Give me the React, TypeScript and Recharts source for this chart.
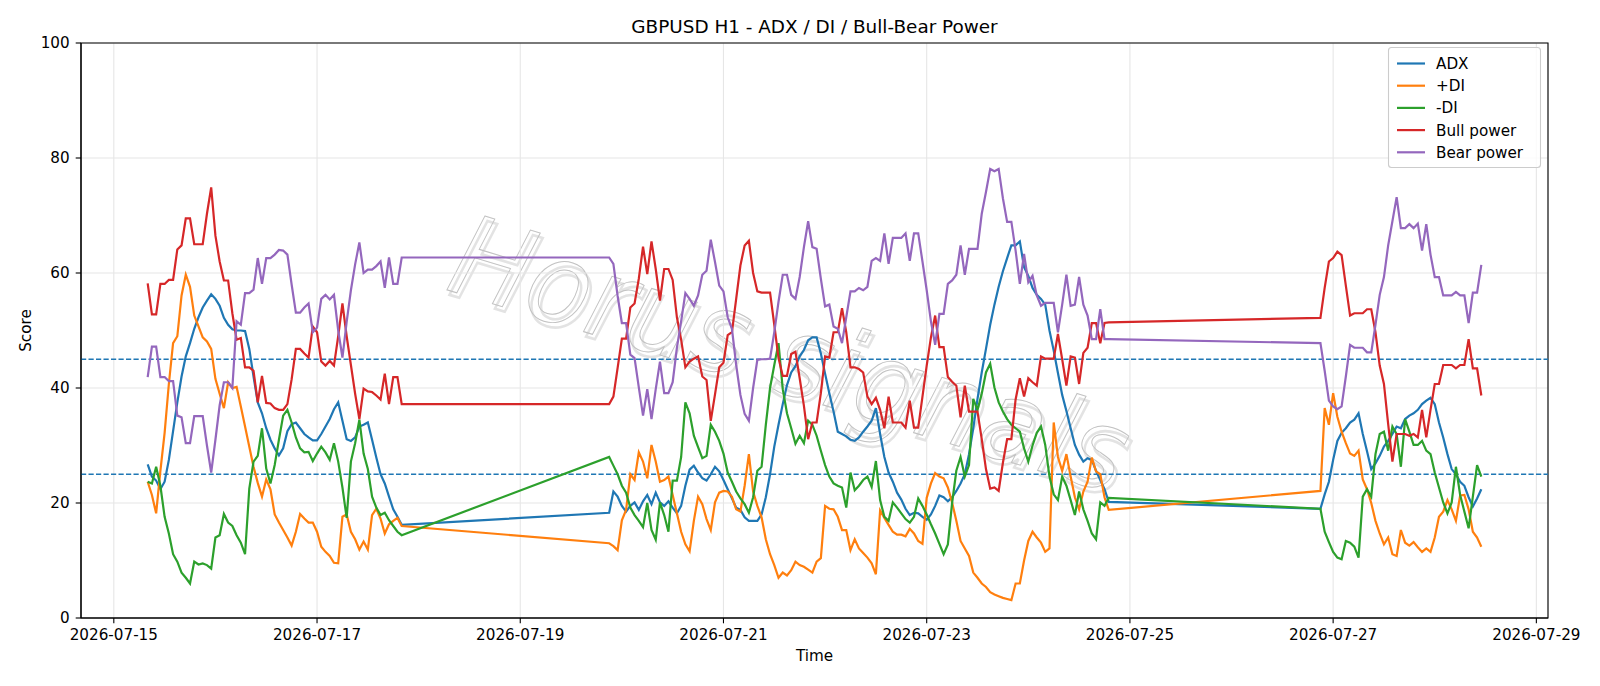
import React from 'react';
import { LineChart, Line, XAxis, YAxis, CartesianGrid, ReferenceLine, ReferenceArea } from 'recharts';

// ---- time axis (H1 bars, three trading blocks separated by weekends) ----
const origin = Date.UTC(2026, 6, 15);
const segmentStarts = ['2026-07-15T08:00:00Z', '2026-07-19T21:00:00Z', '2026-07-26T21:00:00Z'];
const segmentLengths = [61, 119, 39];
const xTickLabels = ['2026-07-15', '2026-07-17', '2026-07-19', '2026-07-21', '2026-07-23', '2026-07-25', '2026-07-27', '2026-07-29'];
const yTicks = [0, 20, 40, 60, 80, 100];
const thresholds = [25, 45];

// ---- series values (one per hour within the blocks) ----
const adx = [
  26.7, 24.6, 23.9, 22.4, 23.7, 27.5, 32.5, 37.5, 42, 45.5,
  47.8, 50.3, 52.3, 54, 55.2, 56.3, 55.5, 54.3, 52.2, 51,
  50.2, 50, 50, 49.9, 46.8, 42, 37.5, 35.6, 33, 31,
  29.5, 28.3, 29.5, 32.5, 33.7, 34, 33, 32, 31.4, 30.9,
  30.9, 32, 33.3, 34.6, 36.3, 37.5, 34.3, 31.1, 30.8, 31.4,
  33.3, 33.6, 34, 31, 27.9, 25, 23.4, 21.1, 18.9, 17.6,
  16.2,
  18.3, 22, 21.1, 19.5, 18.5, 19.5, 20.1, 18.8, 20.3, 21.4,
  19.8, 21.8, 20.1, 19.5, 20.3, 19.2, 18.2, 19.5, 23, 25.8,
  26.5, 25.3, 24.3, 23.9, 25, 26.3, 25.5, 24, 22.4, 20.8,
  19.2, 18.8, 17.5, 16.9, 16.9, 16.9, 18, 21, 25, 29.8,
  33.6, 37.2, 40.5, 42.7, 43.8, 45.5, 46.6, 48.3, 48.8, 48.8,
  46, 42.5, 39.1, 35.9, 32.4, 32, 31.6, 31, 30.8, 31.4,
  32.4, 33.3, 34.3, 36.5, 32, 28, 25.3, 23.7, 21.8, 20.6,
  19, 17.9, 18.3, 18.2, 17.6, 17.1, 18, 19.5, 21.3, 21,
  20.3, 21, 22.1, 23.4, 25, 28.5, 33, 38.1, 42.7, 46.8,
  51, 54.5, 57.6, 60.3, 62.6, 64.8, 64.8, 65.5, 61, 59.5,
  57.4, 56.2, 55.5, 54.5, 50, 46.5, 42.6, 38.8, 36, 33,
  30.1, 28.4, 27.2, 27.8, 27.5, 25.6, 24, 22.4, 20.2,
  19, 21.5, 23.7, 27.5, 30.8, 32.2, 33, 34, 34.5, 35.6,
  32, 29, 25.9, 26.9, 28.2, 29.8, 30.8, 32, 33.3, 33,
  34.6, 35.2, 35.6, 36.2, 37.2, 37.8, 38.3, 37.2, 34, 31.4,
  28.5, 25.9, 25, 23.7, 23, 21, 19.4, 20.8, 22.4,
];

const plusDI = [
  23.7, 21.4, 18.2, 25.6, 32.2, 40.7, 47.8, 49, 56.1, 59.7,
  57.6, 52.6, 50.7, 48.8, 48.1, 46.8, 41.6, 39, 36.5, 41,
  40, 40.2, 36.8, 33.3, 29.8, 26.3, 23.5, 21.1, 24.1, 22.4,
  18, 16.6, 15.3, 14, 12.6, 15, 18.1, 17.3, 16.6, 16.6,
  15, 12.4, 11.5, 10.8, 9.6, 9.5, 17.6, 18, 15, 13.7,
  11.9, 13.3, 11.9, 17.9, 19, 17.3, 14.7, 16.3, 16.9, 17.4,
  16,
  13, 12.5, 11.8, 17, 18.8, 25, 24, 28.8, 27.2, 24.3,
  30.1, 27.2, 23.7, 24, 24.6, 21.4, 18.2, 15, 12.8, 11.6,
  16.9, 21.1, 19.8, 17.2, 15.3, 20.1, 21.8, 22.1, 22, 21.1,
  18.9, 18.5, 23, 28.5, 22, 19.5, 17.5, 13.7, 11.1, 9.2,
  7, 7.9, 7.4, 8.3, 9.8, 9.2, 8.9, 8.4, 7.9, 9.8,
  10.4, 19.5, 19, 18.9, 17.6, 15.3, 15.3, 11.8, 13.7, 12.1,
  11.3, 10.5, 9.5, 7.6, 18.7, 17.4, 16.2, 15, 14.5, 14.5,
  14.2, 15.5, 14.7, 13.4, 12.9, 20.9, 23.4, 25.2, 24.6, 24.3,
  22.7, 20.1, 16.9, 13.4, 12.1, 10.8, 7.9, 7, 6, 5.4,
  4.5, 4.1, 3.8, 3.5, 3.3, 3.1, 6, 6, 10, 13.4,
  15, 14, 13.1, 11.5, 12.1, 34, 28, 25.6, 28.5, 24.6,
  21, 18.9, 22, 23.7, 27.9, 25.5, 25, 21, 18.8,
  22.1, 36.5, 33.6, 39.1, 35, 32.4, 30.4, 28.6, 28.2, 29.1,
  24.1, 22.4, 20, 16.9, 14.7, 12.8, 14, 11.1, 10.8, 15.3,
  13.1, 12.6, 13.2, 12.3, 11.5, 12.1, 11.5, 14, 17.6, 18.5,
  20.5, 18.9, 16.9, 21.3, 21.4, 18.9, 15, 14, 12.4,
];

const minusDI = [
  23.7, 23.4, 26.3, 23, 17.6, 14.7, 11.1, 9.8, 7.9, 7,
  6, 9.8, 9.3, 9.5, 9.2, 8.6, 14, 14.4, 18.1, 16.6,
  16, 14.4, 13.1, 11.1, 22.5, 27.2, 28.2, 33, 26, 23.4,
  26.6, 31, 35.2, 36.2, 34, 31.4, 29.5, 28.8, 28.9, 27.3,
  28.6, 29.8, 28.8, 27.5, 30.4, 27.2, 22.7, 17.4, 27.2, 30.4,
  34.5, 28.6, 25.9, 21.1, 19.2, 17.9, 18.3, 17, 16, 15,
  14.4,
  28, 26.5, 25, 23, 21.8, 19.2, 17.9, 16.9, 15.8, 20,
  15.3, 13.6, 20.1, 17.9, 15, 23.9, 23.9, 28, 37.5, 35.6,
  31.7, 29.7, 27.8, 28.2, 33.6, 32.4, 30.8, 28.6, 25.3, 23.7,
  22, 20.8, 19.8, 18.3, 21, 25.6, 26.3, 33.6, 40, 44,
  47.8, 39.8, 35.6, 33, 30.3, 31.7, 30.4, 34.3, 33.6, 31.7,
  29.1, 26.6, 24.6, 23.4, 23, 22.7, 19.2, 25.3, 22.2, 23,
  24, 24.6, 22.8, 27.3, 20.5, 17.6, 16.9, 20.1, 19.2, 18.2,
  17.2, 16.6, 17.6, 20.8, 19.5, 18, 16.3, 14.7, 12.9, 11.1,
  12.8, 20, 25.6, 28, 24.6, 26.6, 38.1, 36.2, 39, 42.7,
  44.2, 40.1, 37.5, 35.9, 34.6, 33.6, 33, 32.4, 29.5, 27.2,
  30, 32.2, 33.3, 30.1, 24.6, 21.5, 20.5, 24.6, 23, 20.5,
  17.9, 22, 18.9, 16.9, 14.7, 13.7, 20.1, 19.5, 20.9,
  19, 15, 13.2, 11.5, 10.5, 10.2, 13.4, 13.1, 12.4, 10.5,
  21.1, 22.4, 21.1, 28.5, 32, 32.4, 29.1, 33.3, 32, 26.3,
  34.6, 32.4, 30.1, 30.1, 30.8, 29.1, 28.5, 25.3, 22.7, 20.1,
  18.2, 20.1, 26.3, 21.4, 18.5, 15.6, 21.1, 26.6, 24.6,
];

const bullPower = [
  58.2, 52.8, 52.8, 58.1, 58.1, 58.8, 58.8, 64.1, 64.8, 69.5,
  69.5, 65, 65, 65, 70.3, 74.9, 66.5, 62, 58.7, 58.7,
  53, 48.4, 48.7, 43.6, 43.6, 43, 37.5, 42.1, 37.4, 37.3,
  36.5, 36.2, 36.2, 37.2, 41.5, 46.8, 46.8, 46, 45.3, 50.7,
  49.7, 44.6, 43.9, 44.7, 43.9, 49, 54.7, 49, 44, 39,
  34.6, 39.9, 39.4, 39.3, 38.7, 38, 42.5, 37.2, 41.9, 41.9,
  37.2,
  37.2, 38.5, 43.5, 48.6, 48.6, 54, 54.7, 59, 64.6, 59.8,
  65.5, 60.7, 55.2, 60.7, 60.7, 58.8, 52.3, 48.4, 43.6, 44.6,
  45.1, 45.5, 42, 41.4, 34.3, 38.9, 43.6, 44.4, 49.2, 49.7,
  55.5, 61.3, 64.8, 65.6, 60, 56.8, 56.6, 56.6, 56.6, 51,
  45.2, 42.1, 42.1, 45.9, 46.3, 41.7, 36.9, 31.1, 34, 34,
  39.1, 45.5, 45.3, 49.7, 49.7, 53.9, 49.7, 43.6, 43.6, 43.3,
  42.7, 38.5, 37.2, 38.3, 36.2, 33, 38.5, 34, 34, 34,
  33.1, 37.8, 33.1, 33.1, 38.5, 43.9, 48.8, 52.6, 47.1, 47.1,
  41.9, 41.1, 40.4, 34.9, 40.4, 35.9, 35.9, 35.9, 31.1, 25.9,
  22.5, 22.7, 22.1, 27, 31.1, 31.1, 38, 41.7, 38.5, 41.7,
  41, 40.4, 45.5, 45.1, 45.1, 45.1, 49.4, 45, 40.4, 45.5,
  45.3, 40.7, 46.1, 47, 51.3, 51.3, 47.8, 51.3, 51.4,
  52.2, 57.4, 62, 62.6, 63.7, 63.1, 57.8, 52.6, 53, 53,
  53, 53.7, 53.7, 49.7, 43.9, 40.7, 33.7, 27.2, 32, 32,
  32, 31.7, 32, 31.4, 36.2, 31.4, 36.2, 40.7, 40.7, 44,
  44, 44, 43.4, 44, 44, 48.5, 43.4, 43.4, 38.7,
];

const bearPower = [
  41.9, 47.2, 47.2, 41.9, 41.9, 41.2, 41.2, 35.2, 34.9, 30.4,
  30.4, 35.1, 35.1, 35.1, 30, 25.3, 31, 37, 41, 41,
  40, 51.6, 51, 56.5, 56.5, 57.1, 62.6, 58.1, 62.6, 62.6,
  63.2, 64, 63.9, 63.2, 58, 53.1, 53.1, 54, 54.7, 49.7,
  50.5, 55.5, 56.2, 55.4, 56.2, 50, 45.3, 51.5, 57, 61.5,
  65.3, 60, 60.6, 60.6, 61.2, 62, 57.4, 62.7, 58.1, 58.1,
  62.7,
  62.7, 61.6, 56, 51.3, 51.3, 45.8, 45.2, 40.1, 35.2, 39.8,
  34.6, 39.8, 44.6, 39.1, 39.1, 41, 47, 51.6, 56.5, 55.5,
  54.3, 56.1, 59.7, 60.4, 65.8, 61.9, 57.8, 56.8, 52.3, 50.3,
  44, 38.8, 35.5, 34.3, 40, 44.9, 45, 45, 45.1, 49.7,
  55, 59.7, 59.7, 56.2, 55.5, 59.3, 64.5, 69, 64.5, 64.2,
  59, 54.2, 54.5, 50.7, 50.3, 47.8, 52.3, 56.8, 56.8, 57.4,
  57, 57.6, 62.1, 62.6, 62.1, 66.9, 61.6, 66.1, 66.1, 66.1,
  66.9, 62.1, 66.9, 66.9, 62, 57, 51.6, 47.5, 52.9, 52.9,
  58.1, 58.7, 59.7, 64.8, 59.7, 64.2, 64.2, 64.2, 70.3, 74.1,
  78.1, 77.7, 78.1, 73, 68.9, 68.9, 63.9, 58.1, 63.3, 58.4,
  59.5, 56.1, 54.3, 54.8, 54.8, 54.8, 49.7, 54.5, 59.7, 54.3,
  54.5, 59.3, 54.5, 52.6, 48.5, 48.5, 53.7, 48.5, 48.5,
  47.8, 43, 37.8, 36.8, 36.3, 36.8, 42, 47.5, 47, 47,
  47, 46.2, 46.2, 51, 56.2, 59.3, 64.8, 69, 73.2, 67.8,
  67.8, 68.5, 67.8, 68.6, 63.9, 68.5, 63.2, 59.3, 59.3, 56.1,
  56.1, 56.1, 56.7, 56.1, 56.1, 51.3, 56.6, 56.6, 61.4,
];

const seriesDefs = [
  { key: 'adx', name: 'ADX', color: '#1f77b4' },
  { key: 'plusDI', name: '+DI', color: '#ff7f0e' },
  { key: 'minusDI', name: '-DI', color: '#2ca02c' },
  { key: 'bull', name: 'Bull power', color: '#d62728' },
  { key: 'bear', name: 'Bear power', color: '#9467bd' },
];

const hoursFrom = (iso: string) => (Date.parse(iso) - origin) / 3600000;
const times: number[] = [];
segmentStarts.forEach((s, k) => {
  const h0 = hoursFrom(s);
  for (let i = 0; i < segmentLengths[k]; i++) times.push(h0 + i);
});
const data = times.map((t, i) => ({
  t,
  adx: adx[i],
  plusDI: plusDI[i],
  minusDI: minusDI[i],
  bull: bullPower[i],
  bear: bearPower[i],
}));
const xTicks = xTickLabels.map((l) => hoursFrom(l + 'T00:00:00Z'));
const tMin = times[0];
const tMax = times[times.length - 1];
const pad = (tMax - tMin) * 0.05;
const xDomain: [number, number] = [tMin - pad, tMax + pad];
const labelFor = (v: number) => {
  const i = xTicks.indexOf(v);
  return i >= 0 ? xTickLabels[i] : '';
};

const FONT = 'DejaVu Sans, sans-serif';
const TICK_FS = 15.2;

export default function App() {
  const plotCx = (81 + 1548) / 2;
  return (
    <div style={{ position: 'absolute', left: 0, top: 0, width: 1600, height: 686, background: '#fff', fontFamily: FONT }}>
      {/* watermark behind the chart */}
      <svg width={1600} height={686} style={{ position: 'absolute', left: 0, top: 0 }}>
        <g transform="rotate(17 790 355)">
          <text x={794} y={397} textAnchor="middle" fontFamily={FONT} fontStyle="italic" fontSize={112}
            textLength={700} lengthAdjust="spacingAndGlyphs" fill="none" stroke="#e3e3e3" strokeWidth={2.6}>Horus signals</text>
          <text x={790} y={393} textAnchor="middle" fontFamily={FONT} fontStyle="italic" fontSize={112}
            textLength={700} lengthAdjust="spacingAndGlyphs" fill="none" stroke="#c2c2c2" strokeWidth={1}>Horus signals</text>
        </g>
      </svg>
      <div style={{ position: 'absolute', left: 0, top: 0 }}>
        <LineChart width={1600} height={686} data={data} margin={{ top: 43, right: 52, bottom: 38, left: 0 }}>
          <CartesianGrid stroke="#e6e6e6" strokeWidth={1.1} />
          <XAxis
            type="number"
            dataKey="t"
            domain={xDomain}
            allowDataOverflow
            ticks={xTicks}
            interval={0}
            tickFormatter={labelFor}
            height={30}
            tickSize={5.3}
            tickMargin={6}
            tick={{ fill: '#000', fontSize: TICK_FS, fontFamily: FONT }}
            tickLine={{ stroke: '#000', strokeWidth: 1.1 }}
            axisLine={{ stroke: '#000', strokeWidth: 1.1 }}
          />
          <YAxis
            type="number"
            domain={[0, 100]}
            allowDataOverflow
            ticks={yTicks}
            interval={0}
            width={81}
            tickSize={5.3}
            tickMargin={6}
            tick={{ fill: '#000', fontSize: TICK_FS, fontFamily: FONT }}
            tickLine={{ stroke: '#000', strokeWidth: 1.1 }}
            axisLine={{ stroke: '#000', strokeWidth: 1.1 }}
          />
          <ReferenceArea x1={xDomain[0]} x2={xDomain[1]} y1={0} y2={100} fill="none" fillOpacity={0} stroke="#000" strokeWidth={1.1} />
          {thresholds.map((v) => (
            <ReferenceLine key={v} y={v} stroke="#1f77b4" strokeWidth={1.4} strokeDasharray="5.2 2.3" />
          ))}
          {seriesDefs.map((s) => (
            <Line key={s.key} type="linear" dataKey={s.key} name={s.name} stroke={s.color} strokeWidth={2.2}
              dot={false} activeDot={false} isAnimationActive={false} />
          ))}
        </LineChart>
      </div>
      {/* title, axis labels, legend */}
      <svg width={1600} height={686} style={{ position: 'absolute', left: 0, top: 0, pointerEvents: 'none' }}>
        <text x={plotCx} y={33} textAnchor="middle" fontFamily={FONT} fontSize={18.4} fill="#000">
          GBPUSD H1 - ADX / DI / Bull-Bear Power
        </text>
        <text x={plotCx} y={661} textAnchor="middle" fontFamily={FONT} fontSize={TICK_FS} fill="#000">Time</text>
        <text x={31} y={330.5} textAnchor="middle" fontFamily={FONT} fontSize={TICK_FS} fill="#000"
          transform="rotate(-90 31 330.5)">Score</text>
        <g>
          <rect x={1388.5} y={47.5} width={152} height={120} rx={3} ry={3} fill="#fff" fillOpacity={0.8} stroke="#cccccc" strokeWidth={1.1} />
          {seriesDefs.map((s, i) => {
            const cy = 63.5 + i * 22.2;
            return (
              <g key={s.key}>
                <line x1={1397} x2={1425} y1={cy} y2={cy} stroke={s.color} strokeWidth={2.2} />
                <text x={1436} y={cy + 5.4} fontFamily={FONT} fontSize={TICK_FS} fill="#000">{s.name}</text>
              </g>
            );
          })}
        </g>
      </svg>
    </div>
  );
}
